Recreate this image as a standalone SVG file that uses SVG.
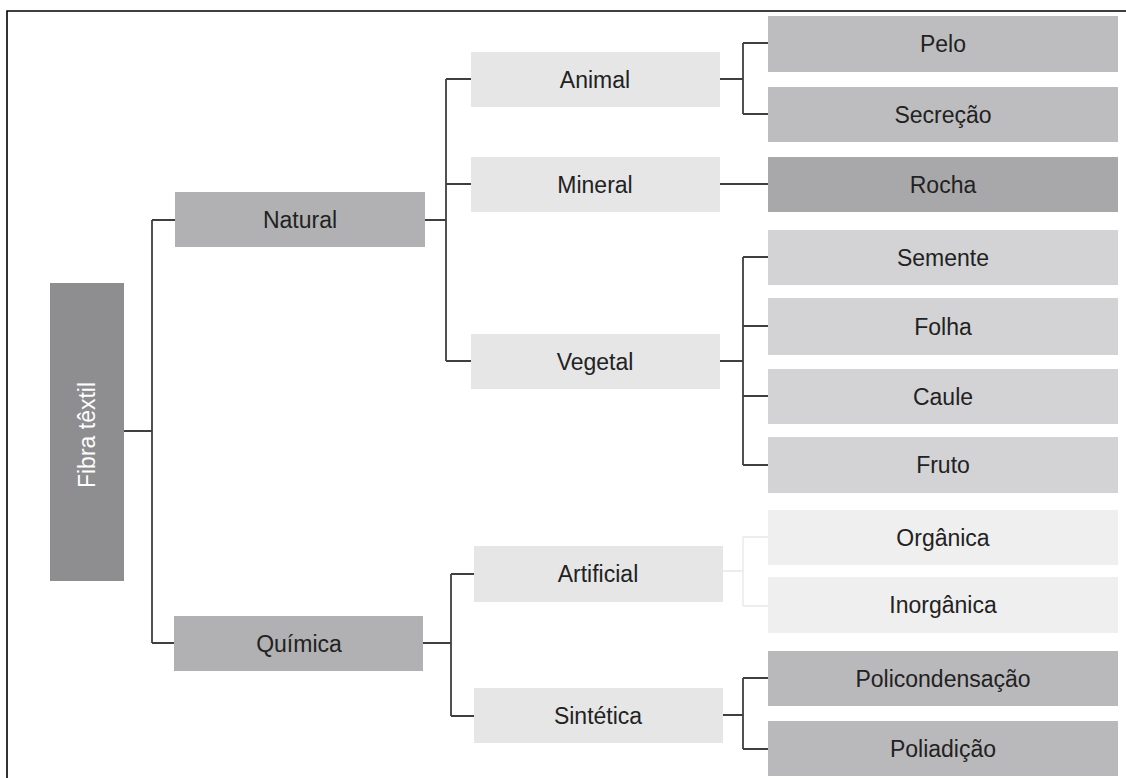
<svg xmlns="http://www.w3.org/2000/svg" width="1126" height="778" viewBox="0 0 1126 778">
<style>
text{font-family:"Liberation Sans",Arial,Helvetica,sans-serif;font-size:23px;fill:#222;text-anchor:middle;dominant-baseline:central}
.c{fill:none;stroke:#3f3f3f;stroke-width:1.8}
.f{fill:none;stroke:#e8e8e8;stroke-width:1.4}
.r0{fill:#8e8e90}.r1{fill:#b1b1b3}.r2{fill:#e6e6e7}.pe{fill:#bdbdbf}.ro{fill:#a8a8aa}.ve{fill:#d3d3d5}.ar{fill:#efefef}.si{fill:#b9b9bb}
</style>
<rect width="1126" height="778" fill="#fff"/>
<path d="M7,778 V11 H1126" fill="none" stroke="#000" stroke-width="1.6"/>
<g id="connectors">
<path class="c" d="M124,431 H152 M152,220 V643 M152,220 H175 M152,643 H174"/>
<path class="c" d="M425,220 H446 M446,79 V361 M446,79 H471 M446,184 H471 M446,361 H471"/>
<path class="c" d="M720,79 H743 M743,43 V114 M743,43 H768 M743,114 H768"/>
<path class="c" d="M720,184 H768"/>
<path class="c" d="M720,361 H743 M743,257 V465 M743,257 H768 M743,326 H768 M743,396 H768 M743,465 H768"/>
<path class="c" d="M423,643 H451 M451,574 V716 M451,574 H474 M451,716 H474"/>
<path class="f" d="M723,571 H743 M743,537 V606 M743,537 H768 M743,606 H768"/>
<path class="c" d="M723,715 H743 M743,678 V749 M743,678 H768 M743,749 H768"/>
</g>
<g id="fibra"><rect class="r0" x="50" y="283" width="74" height="298"/><text x="0" y="0" transform="translate(87,435) rotate(-90)" style="fill:#fff">Fibra têxtil</text></g>
<g id="natural"><rect class="r1" x="175" y="192" width="250" height="55"/><text x="300" y="220">Natural</text></g>
<g id="quimica"><rect class="r1" x="174" y="616" width="249" height="55"/><text x="299" y="644">Química</text></g>
<g id="animal"><rect class="r2" x="471" y="52" width="249" height="55"/><text x="595" y="80">Animal</text></g>
<g id="mineral"><rect class="r2" x="471" y="157" width="249" height="55"/><text x="595" y="185">Mineral</text></g>
<g id="vegetal"><rect class="r2" x="471" y="334" width="249" height="55"/><text x="595" y="362">Vegetal</text></g>
<g id="artificial"><rect class="r2" x="474" y="546" width="249" height="56"/><text x="598" y="574">Artificial</text></g>
<g id="sintetica"><rect class="r2" x="474" y="688" width="249" height="55"/><text x="598" y="716">Sintética</text></g>
<g id="pelo"><rect class="pe" x="768" y="16" width="350" height="56"/><text x="943" y="44">Pelo</text></g>
<g id="secrecao"><rect class="pe" x="768" y="87" width="350" height="55"/><text x="943" y="115">Secreção</text></g>
<g id="rocha"><rect class="ro" x="768" y="157" width="350" height="55"/><text x="943" y="185">Rocha</text></g>
<g id="semente"><rect class="ve" x="768" y="230" width="350" height="55"/><text x="943" y="258">Semente</text></g>
<g id="folha"><rect class="ve" x="768" y="298" width="350" height="57"/><text x="943" y="327">Folha</text></g>
<g id="caule"><rect class="ve" x="768" y="369" width="350" height="55"/><text x="943" y="397">Caule</text></g>
<g id="fruto"><rect class="ve" x="768" y="437" width="350" height="56"/><text x="943" y="465">Fruto</text></g>
<g id="organica"><rect class="ar" x="768" y="510" width="350" height="55"/><text x="943" y="538">Orgânica</text></g>
<g id="inorganica"><rect class="ar" x="768" y="577" width="350" height="56"/><text x="943" y="605">Inorgânica</text></g>
<g id="policondensacao"><rect class="si" x="768" y="651" width="350" height="55"/><text x="943" y="679">Policondensação</text></g>
<g id="poliadicao"><rect class="si" x="768" y="721" width="350" height="55"/><text x="943" y="749">Poliadição</text></g>
</svg>
